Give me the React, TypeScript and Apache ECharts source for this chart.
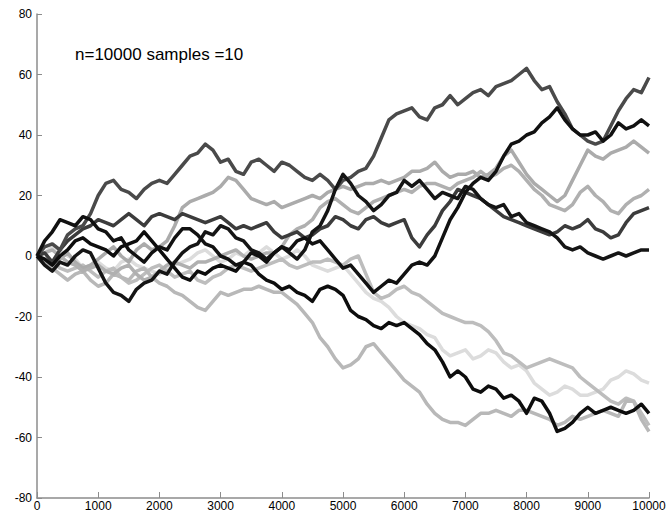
import React, { useEffect, useRef } from "react";
import * as echarts from "echarts";

const stepSize = 125;

const walkA = [0,3,4,2,7,9,10,14,20,24,25,22,21,19,22,24,25,24,27,30,33,34,37,35,31,32,28,27,31,32,30,28,31,30,28,26,25,27,25,22,25,26,28,29,33,39,45,47,48,49,46,45,49,50,53,50,52,54,55,53,56,57,58,60,62,58,55,56,51,47,42,40,38,37,38,43,48,52,55,54,59];
const walkC = [0,5,8,12,11,10,13,12,9,8,5,6,2,0,-2,1,3,2,6,9,9,7,4,3,0,-1,-3,-2,1,0,-2,1,3,2,5,6,4,5,2,-1,-4,-3,-6,-9,-12,-10,-8,-9,-6,-3,-2,-3,0,6,12,16,21,24,26,25,28,33,37,38,40,41,44,46,49,45,42,40,40,41,38,40,44,42,43,45,43];
const walkB = [0,-3,-5,-2,-3,0,2,1,-4,-9,-12,-13,-15,-11,-9,-8,-5,-6,-2,1,3,4,8,7,10,9,6,5,2,1,-1,1,3,1,-1,2,8,10,15,22,27,24,20,18,15,17,20,21,25,23,25,22,19,21,20,19,23,22,19,17,16,17,13,14,11,10,9,8,6,3,2,3,1,0,-1,0,1,0,1,2,2];
const walkH = [0,-1,-3,0,2,5,6,4,3,2,0,3,4,5,8,5,2,-1,-4,-7,-8,-5,-6,-4,-3,-4,-5,-2,-3,-6,-8,-9,-11,-10,-12,-13,-15,-11,-10,-11,-13,-18,-20,-21,-23,-24,-22,-23,-22,-24,-26,-29,-31,-35,-40,-38,-40,-44,-45,-43,-44,-47,-46,-48,-52,-47,-48,-52,-58,-57,-55,-52,-50,-52,-51,-50,-51,-52,-51,-49,-52];
const walkD = [0,-2,-3,-1,1,-2,-4,-3,-1,1,3,0,-2,2,4,2,3,5,10,16,18,19,20,21,23,26,25,22,19,18,17,18,16,17,18,19,20,19,21,22,23,22,23,24,24,25,24,25,26,28,28,29,31,28,26,27,27,28,26,27,29,33,35,31,27,24,22,20,18,20,25,30,35,33,32,34,35,36,38,36,34];
const walkE = [0,1,2,0,-2,-3,-5,-4,-3,-5,-6,-4,-3,-6,-8,-7,-5,-3,-2,-3,-4,-2,-2,-1,0,1,2,0,-1,0,1,1,3,7,9,10,12,16,18,19,17,15,14,16,18,19,20,21,22,21,23,24,24,23,22,24,25,26,28,26,27,29,30,28,25,22,20,17,16,15,17,21,23,20,18,15,14,17,19,20,22];
const walkF = [0,1,-2,2,5,7,9,10,12,11,10,12,14,12,10,13,14,13,12,14,13,12,11,12,13,11,9,10,9,10,11,8,6,7,8,6,7,9,10,13,12,10,9,12,13,11,10,11,12,6,3,7,10,15,18,22,21,20,19,17,15,13,12,11,10,9,8,7,8,10,9,10,12,9,8,6,7,11,14,15,16];
const walkG = [0,1,3,2,0,-1,-4,-3,-2,-4,-5,-2,-1,-3,-4,-5,-6,-4,-3,-2,-1,1,2,0,-2,-1,1,0,2,1,3,1,-1,0,2,0,-3,-4,-5,-4,-3,-6,-9,-12,-14,-15,-17,-20,-22,-23,-24,-26,-27,-31,-33,-32,-31,-34,-33,-31,-32,-35,-37,-36,-38,-42,-44,-46,-45,-43,-44,-46,-46,-45,-44,-41,-40,-38,-39,-41,-42];
const walkI = [0,-1,-2,-4,-5,-4,-3,-5,-7,-5,-4,-7,-9,-8,-6,-4,-3,-5,-7,-6,-5,-8,-9,-7,-6,-4,-3,-4,-5,-4,-3,-2,-1,-3,-4,-3,-2,-2,-1,-2,-3,-1,0,-6,-12,-14,-13,-11,-10,-12,-13,-15,-17,-19,-20,-21,-22,-22,-23,-25,-28,-32,-33,-35,-37,-36,-35,-34,-35,-36,-37,-40,-42,-44,-46,-48,-49,-47,-48,-52,-56];
const walkJ = [0,-2,-4,-6,-8,-6,-5,-8,-10,-9,-6,-7,-8,-5,-4,-7,-9,-10,-12,-13,-15,-17,-18,-15,-12,-13,-12,-11,-11,-10,-11,-12,-12,-14,-16,-19,-22,-27,-30,-34,-37,-36,-34,-30,-29,-32,-35,-38,-41,-43,-45,-49,-52,-54,-55,-55,-56,-54,-52,-52,-51,-52,-53,-51,-51,-52,-53,-54,-56,-55,-53,-54,-53,-52,-51,-52,-53,-48,-48,-54,-58];

const walks = [
  { data: walkG, color: "#dcdcdc" },
  { data: walkI, color: "#bdbdbd" },
  { data: walkJ, color: "#b8b8b8" },
  { data: walkD, color: "#ababab" },
  { data: walkE, color: "#b0b0b0" },
  { data: walkF, color: "#3c3c3c" },
  { data: walkA, color: "#4a4a4a" },
  { data: walkB, color: "#151515" },
  { data: walkH, color: "#0d0d0d" },
  { data: walkC, color: "#111111" },
];

const yTicks = [-80, -60, -40, -20, 0, 20, 40, 60, 80];
const xTicks = [0, 1000, 2000, 3000, 4000, 5000, 6000, 7000, 8000, 9000, 10000];
const titleText = "n=10000 samples =10";

export default function App() {
  const ref = useRef<HTMLDivElement>(null);
  useEffect(() => {
    document.body.style.margin = "0";
    const chart = echarts.init(ref.current!, null, { renderer: "svg" });
    chart.setOption({
      animation: false,
      backgroundColor: "#ffffff",
      grid: { left: 37, right: 22, top: 14, bottom: 19, containLabel: false },
      graphic: [
        {
          type: "text",
          left: 75,
          top: 46,
          style: {
            text: titleText,
            fontSize: 17,
            fontFamily: "Liberation Sans, Arial, sans-serif",
            fill: "#000",
          },
        },
      ],
      xAxis: {
        type: "value",
        min: xTicks[0],
        max: xTicks[xTicks.length - 1],
        interval: 1000,
        axisLine: { onZero: false, lineStyle: { color: "#8c8c8c", width: 1.5 } },
        axisTick: { inside: true, length: 6, lineStyle: { color: "#8c8c8c" } },
        axisLabel: {
          color: "#000",
          fontSize: 12,
          margin: 2,
          fontFamily: "Liberation Sans, Arial, sans-serif",
          formatter: (v: number) => String(v),
        },
        splitLine: { show: false },
      },
      yAxis: {
        type: "value",
        min: yTicks[0],
        max: yTicks[yTicks.length - 1],
        interval: 20,
        axisLine: { show: true, onZero: false, lineStyle: { color: "#8c8c8c", width: 1.5 } },
        axisTick: { show: true, inside: true, length: 5, lineStyle: { color: "#8c8c8c" } },
        axisLabel: {
          color: "#000",
          fontSize: 12,
          margin: 5,
          fontFamily: "Liberation Sans, Arial, sans-serif",
          formatter: (v: number) => String(v),
        },
        splitLine: { show: false },
      },
      series: walks.map((w) => ({
        type: "line",
        showSymbol: false,
        symbol: "none",
        data: w.data.map((v, i) => [i * stepSize, v]),
        lineStyle: { color: w.color, width: 3.5, join: "round" },
        itemStyle: { color: w.color },
        silent: true,
      })),
    });
    return () => chart.dispose();
  }, []);
  return (
    <div
      ref={ref}
      style={{ position: "fixed", left: 0, top: 0, width: 671, height: 517 }}
    />
  );
}
